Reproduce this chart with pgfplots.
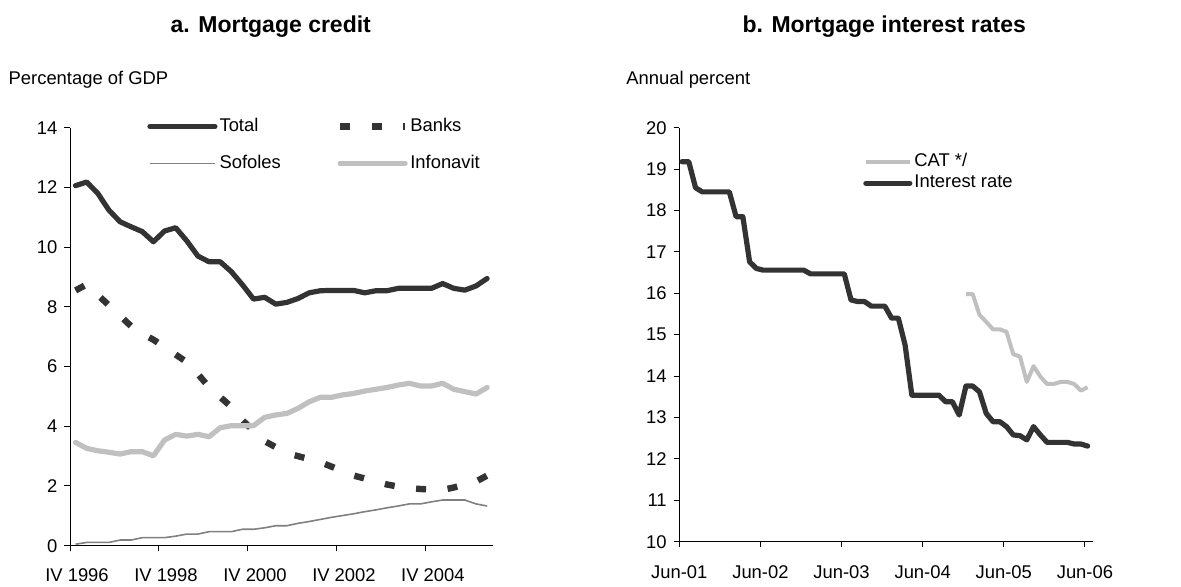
\documentclass[border=0pt]{standalone}
\usepackage{fontspec}
\setmainfont{Liberation Sans}
\usepackage{pgfplots}
\pgfplotsset{compat=1.18}
\usepackage{pgfplotstable}

\definecolor{dk}{HTML}{333333}
\definecolor{lt}{HTML}{C0C0C0}
\definecolor{md}{HTML}{808080}

% quarterly, IV 1996 = 0
\pgfplotstableread{
q total banks sofoles infonavit
0 12.06 8.55 0.05 3.46
1 12.18 8.75 0.11 3.26
2 11.80 8.40 0.11 3.18
3 11.24 8.05 0.11 3.13
4 10.85 7.70 0.19 3.07
5 10.68 7.35 0.19 3.15
6 10.52 7.10 0.27 3.15
7 10.18 6.90 0.27 3.01
8 10.54 6.65 0.27 3.54
9 10.65 6.40 0.32 3.73
10 10.21 6.15 0.39 3.67
11 9.70 5.75 0.39 3.73
12 9.51 5.31 0.47 3.65
13 9.51 4.98 0.47 3.95
14 9.18 4.65 0.47 4.02
15 8.74 4.20 0.55 4.02
16 8.26 3.85 0.55 4.02
17 8.32 3.50 0.60 4.30
18 8.09 3.30 0.67 4.38
19 8.15 3.10 0.67 4.43
20 8.28 3.00 0.75 4.60
21 8.47 2.90 0.81 4.82
22 8.54 2.80 0.88 4.97
23 8.55 2.65 0.95 4.97
24 8.55 2.50 1.01 5.05
25 8.55 2.35 1.07 5.10
26 8.47 2.25 1.14 5.18
27 8.54 2.15 1.20 5.24
28 8.54 2.05 1.27 5.30
29 8.62 1.98 1.33 5.38
30 8.62 1.93 1.40 5.44
31 8.62 1.90 1.40 5.35
32 8.62 1.88 1.47 5.35
33 8.78 1.87 1.53 5.44
34 8.62 1.95 1.53 5.24
35 8.56 2.05 1.53 5.16
36 8.70 2.15 1.40 5.08
37 8.95 2.35 1.33 5.30
}\credit

% monthly, Jun-01 = 0
\pgfplotstableread{
m rate
0 19.18
1 19.18
2 18.55
3 18.45
4 18.45
5 18.45
6 18.45
7 18.45
8 17.85
9 17.85
10 16.76
11 16.60
12 16.56
13 16.56
14 16.56
15 16.56
16 16.56
17 16.56
18 16.56
19 16.47
20 16.47
21 16.47
22 16.47
23 16.47
24 16.47
25 15.84
26 15.80
27 15.80
28 15.69
29 15.69
30 15.69
31 15.40
32 15.40
33 14.75
34 13.54
35 13.54
36 13.54
37 13.54
38 13.54
39 13.38
40 13.38
41 13.06
42 13.76
43 13.76
44 13.62
45 13.10
46 12.90
47 12.90
48 12.78
49 12.58
50 12.56
51 12.46
52 12.78
53 12.58
54 12.40
55 12.40
56 12.40
57 12.40
58 12.36
59 12.36
60 12.31
}\rates

\pgfplotstableread{
m cat
42 15.98
43 15.98
44 15.48
45 15.31
46 15.13
47 15.13
48 15.07
49 14.53
50 14.47
51 13.86
52 14.24
53 13.99
54 13.81
55 13.81
56 13.86
57 13.86
58 13.81
59 13.65
60 13.73
}\cat

\pgfplotsset{
  panel/.style={
    scale only axis,
    axis x line*=bottom, axis y line*=left,
    tick align=outside,
    major tick length=2.8pt,
    tick style={black, line width=0.5pt},
    axis line style={black, line width=0.5pt},
    tick label style={font=\fontsize{9.2}{11}\selectfont},
    /pgf/number format/assume math mode=true,
    title style={font=\bfseries\fontsize{11.5}{13}\selectfont, anchor=center, yshift=-6pt},
    legend cell align=left,
    legend style={draw=none, fill=none, inner sep=0pt,
      font=\fontsize{9.2}{11}\selectfont,
      nodes={inner sep=1pt, text height=6.6pt, text depth=1.9pt}},
    clip=false,
  },
}

\begin{document}
\begin{tikzpicture}
\path[use as bounding box] (0,0) rectangle (590.5pt,293pt);

\begin{axis}[panel,
  at={(35pt,20.15pt)}, anchor=south west,
  width=211.35pt, height=209pt,
  xmin=-0.5, xmax=37.5, ymin=0, ymax=14,
  xtick={-0.5,7.5,15.5,23.5,31.5},
  xticklabels={IV 1996,IV 1998,IV 2000,IV 2002,IV 2004},
  xticklabel style={xshift=3.5pt, yshift=-5pt},
  ytick={0,2,...,14},
  title={a. Mortgage credit},
  title style={at={(0.475,1.2416)}},
  legend columns=2,
  legend style={at={(0.182,1.029)}, anchor=north west, row sep=8pt,
    /tikz/every even column/.append style={column sep=27pt}},
  legend image code/.code={\draw[#1] (0pt,0pt) -- (32.5pt,0pt);},
]
\addplot[dk, line width=2.6pt, line join=round, line cap=round] table[x=q, y=total] {\credit};
\addlegendentry{Total}
\addplot[dk, line width=3.2pt, dash pattern=on 5pt off 10.8pt] table[x=q, y=banks] {\credit};
\addlegendentry{Banks}
\addplot[md, line width=0.8pt] table[x=q, y=sofoles] {\credit};
\addlegendentry{Sofoles}
\addplot[lt, line width=2.6pt, line join=round, line cap=round] table[x=q, y=infonavit] {\credit};
\addlegendentry{Infonavit}
\node[anchor=west, inner sep=0pt, font=\fontsize{9.2}{11}\selectfont]
  at (axis description cs:-0.146,1.1158) {Percentage of GDP};
\end{axis}

\begin{axis}[panel,
  at={(339.65pt,22.15pt)}, anchor=south west,
  width=206.7pt, height=207pt,
  xmin=-0.4, xmax=60.75, ymin=10, ymax=20,
  xtick={-0.4,11.6,23.6,35.6,47.6,59.6},
  xticklabels={Jun-01,Jun-02,Jun-03,Jun-04,Jun-05,Jun-06},
  xticklabel style={yshift=-5.5pt},
  ytick={10,11,...,20},
  title={b. Mortgage interest rates},
  title style={at={(0.4957,1.244)}},
  legend style={at={(0.444,0.943)}, anchor=north west, row sep=0pt},
  legend image code/.code={\draw[#1] (0pt,0pt) -- (22pt,0pt);},
]
\addplot[lt, line width=2pt, line join=round] table[x=m, y=cat] {\cat};
\addlegendentry{CAT */}
\addplot[dk, line width=2.6pt, line join=round, line cap=round] table[x=m, y=rate] {\rates};
\addlegendentry{Interest rate}
\node[anchor=west, inner sep=0pt, font=\fontsize{9.2}{11}\selectfont]
  at (axis description cs:-0.129,1.117) {Annual percent};
\end{axis}
\end{tikzpicture}
\end{document}
